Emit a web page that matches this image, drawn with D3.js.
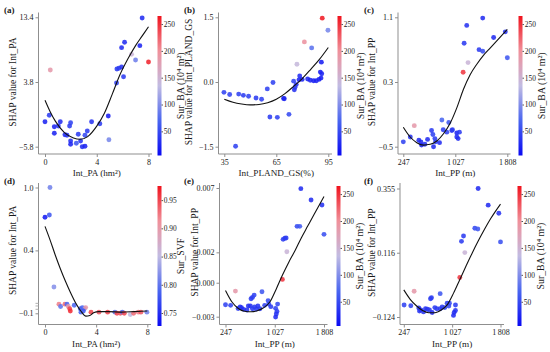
<!DOCTYPE html>
<html>
<head>
<meta charset="utf-8">
<script src="https://cdn.jsdelivr.net/npm/d3@7"></script>
<style>
	body { margin: 0; background: #fff; }
	svg text { font-family: "Liberation Serif", "Times New Roman", serif; fill: #1a1a1a; }
</style>
</head>
<body>
<svg id="chart" width="550" height="352"></svg>
<script>

// ---------------- data ---------------- //

// (a) Int_PA vs SHAP, coloured by Sur_BA
var aX = [7.51, 7.33, 6.15, 5.92, 6.69, 7.0, 8.0, 0.41, 5.56, 5.71, 5.92, 6.07, 5.53, 4.89, 4.94, 0, 0.33, 0.72, 1.03, 1.18, 0.72, 1.54, 1.70, 1.90, 1.98, 1.98, 1.98, 2.42, 2.57, 2.75, 2.88, 3.09, 3.09, 3.27, 3.6, 4.24];
var aY = [13.3, 9.19, 9.69, 8.9, 7.9, 7.07, 6.77, 5.58, 5.73, 5.83, 6.03, 4.59, 3.65, -1.24, -4.76, -2.09, -1.14, -2.83, -2.73, -2.09, -3.81, -4.02, -4.11, -2.73, -2.24, -4.95, -5.44, -5.29, -3.96, -4.95, -5.8, -5.74, -4.11, -3.47, -2.09, -2.39];
var aC = [30, 25, 30, 30, 145, 90, 255, 185, 40, 40, 35, 40, 45, 20, 95, 25, 40, 25, 35, 30, 25, 30, 35, 40, 45, 30, 25, 60, 40, 35, 30, 25, 50, 40, 35, 40];
var aCurveX = [0, 0.4, 0.8, 1.5, 2.2, 2.7, 3.3, 4.0, 4.6, 5.2, 5.8, 6.4, 7.0, 7.5, 8.0];
var aCurveY = [1.1, -0.6, -2.0, -3.7, -4.5, -4.7, -4.3, -2.75, -0.8, 2.0, 4.9, 7.2, 9.2, 10.6, 12.0];

// (b) Int_PLAND_GS
var bX = [91.5, 94.8, 81.2, 85.4, 76.9, 91.0, 90.4, 91.2, 90.8, 89.6, 88.1, 86.5, 84.6, 83.1, 79.9, 78.5, 78.1, 75.0, 76.5, 75.8, 75.4, 63.1, 59.8, 69.2, 69.6, 56.5, 53.3, 49.0, 46.0, 43.3, 38.1, 34.8, 61.3, 65.6, 72.3, 41.5];
var bY = [1.48, 1.2, 0.93, 0.79, 0.41, 0.46, 0.23, 0.19, 0.09, 0.06, 0.03, 0.03, 0.04, 0.07, 0.06, 0.14, 0.05, 0.02, -0.06, -0.12, -0.18, -0.01, -0.16, -0.38, -0.39, -0.40, -0.37, -0.33, -0.31, -0.28, -0.29, -0.24, -0.81, -0.82, -0.75, -1.49];
var bC = [260, 95, 195, 80, 140, 20, 20, 25, 20, 20, 25, 20, 25, 25, 25, 30, 25, 45, 30, 40, 35, 45, 45, 25, 25, 45, 40, 45, 40, 45, 45, 45, 40, 45, 50, 45];
var bCurveX = [35, 40, 45, 50, 55, 60, 65, 70, 75, 80, 85, 90, 95];
var bCurveY = [-0.40, -0.47, -0.51, -0.53, -0.52, -0.48, -0.40, -0.27, -0.10, 0.08, 0.30, 0.53, 0.80];

// (c) Int_PP
var cX = [1439, 1199, 1160, 1603, 1778, 1384, 1439, 1808, 1219, 1145, 412, 826, 930, 846, 900, 975, 985, 1050, 1090, 1050, 1070, 671, 691, 611, 721, 731, 791, 701, 481, 511, 521, 571, 352, 247];
var cY = [1.09, 1.0, 0.78, 0.85, 0.92, 0.70, 0.68, 0.60, 0.54, 0.42, -0.24, -0.17, -0.20, -0.29, -0.32, -0.30, -0.29, -0.33, -0.32, -0.38, -0.40, -0.30, -0.35, -0.41, -0.40, -0.44, -0.45, -0.50, -0.42, -0.44, -0.48, -0.47, -0.38, -0.44];
var cC = [30, 35, 40, 30, 35, 40, 55, 60, 145, 245, 185, 70, 60, 40, 45, 30, 40, 25, 40, 30, 30, 40, 45, 30, 40, 40, 30, 30, 30, 30, 25, 35, 35, 45];
var ppCurveX = [247, 350, 450, 550, 650, 750, 850, 950, 1050, 1150, 1250, 1350, 1450, 1550, 1650, 1808];
var cCurveY = [-0.26, -0.38, -0.45, -0.48, -0.47, -0.43, -0.34, -0.21, -0.02, 0.21, 0.39, 0.52, 0.63, 0.72, 0.81, 0.95];

// (d) Int_PA, coloured by Sur_SVF
var dX = [0.39, 0, 0.34, 0.70, 1.09, 1.22, 1.56, 1.72, 1.82, 1.93, 1.98, 2.29, 2.76, 2.92, 3.07, 3.18, 3.0, 2.81, 3.6, 4.22, 4.9, 5.47, 5.63, 5.89, 6.05, 6.2, 6.67, 6.93, 7.3, 7.5, 7.97];
var dY = [0.98, 0.72, 0.74, 0.11, -0.04, -0.06, -0.04, -0.04, -0.06, -0.08, -0.10, -0.05, -0.08, -0.07, -0.08, -0.07, -0.10, -0.11, -0.11, -0.11, -0.11, -0.11, -0.12, -0.12, -0.11, -0.12, -0.13, -0.12, -0.11, -0.11, -0.11];
var dC = [0.81, 0.74, 0.78, 0.82, 0.92, 0.80, 0.93, 0.79, 0.90, 0.95, 0.96, 0.79, 0.78, 0.79, 0.80, 0.90, 0.78, 0.79, 0.95, 0.94, 0.95, 0.80, 0.95, 0.94, 0.79, 0.95, 0.85, 0.93, 0.92, 0.94, 0.81];
var dCurveX = [0, 0.4, 0.8, 1.2, 1.6, 2.0, 2.4, 2.8, 3.2, 3.5, 3.8, 4.2, 5, 6, 7, 8];
var dCurveY = [0.64, 0.52, 0.39, 0.27, 0.16, 0.06, -0.03, -0.10, -0.145, -0.14, -0.115, -0.105, -0.105, -0.11, -0.105, -0.10];

// (e) Int_PP
var eX = [1441, 1603, 1776, 1808, 1381, 1424, 1160, 1187, 1208, 1219, 1149, 404, 825, 674, 701, 652, 922, 247, 328, 501, 479, 533, 609, 641, 706, 738, 760, 792, 868, 933, 965, 1041, 1073, 1063, 1052, 1041, 674, 587, 447];
var eY = [0.00731, 0.00643, 0.00604, 0.00376, 0.00438, 0.00438, 0.00337, 0.00345, 0.00347, 0.00241, 0.00026, -0.00065, -0.00070, -0.00114, -0.00096, -0.00124, -0.00140, -0.00171, -0.00176, -0.00194, -0.00189, -0.00207, -0.00181, -0.00181, -0.00189, -0.00204, -0.00181, -0.00202, -0.00176, -0.00166, -0.00186, -0.00199, -0.00166, -0.00223, -0.00243, -0.00267, -0.00202, -0.00212, -0.00200];
var eC = [30, 30, 35, 55, 50, 60, 40, 40, 40, 145, 245, 185, 60, 40, 45, 40, 50, 45, 45, 30, 30, 30, 35, 35, 40, 40, 35, 40, 45, 50, 40, 45, 50, 40, 35, 30, 40, 35, 40];
var eCurveY = [-0.0006, -0.0015, -0.0020, -0.00222, -0.00226, -0.00218, -0.00195, -0.0015, -0.0005, 0.0006, 0.0016, 0.0025, 0.0035, 0.0044, 0.0053, 0.0067];

// (f) Int_PP
var fX = [1447, 1609, 1781, 1808, 1394, 1442, 1211, 1178, 1232, 1151, 414, 834, 694, 678, 252, 360, 489, 522, 597, 629, 661, 705, 748, 780, 834, 909, 974, 984, 1081, 1081, 1060, 1049, 565, 500, 866, 947];
var fY = [0.355, 0.293, 0.263, 0.156, 0.207, 0.204, 0.178, 0.158, 0.116, 0.023, -0.028, -0.037, -0.052, -0.056, -0.079, -0.082, -0.090, -0.098, -0.093, -0.095, -0.098, -0.107, -0.089, -0.093, -0.093, -0.089, -0.083, -0.073, -0.079, -0.100, -0.107, -0.118, -0.105, -0.102, -0.087, -0.073];
var fC = [30, 30, 35, 55, 50, 60, 40, 40, 145, 245, 185, 60, 40, 40, 45, 45, 30, 30, 35, 35, 40, 30, 40, 40, 40, 45, 50, 50, 40, 35, 30, 30, 35, 35, 40, 45];
var fCurveY = [-0.023, -0.058, -0.082, -0.100, -0.108, -0.108, -0.098, -0.078, -0.035, 0.015, 0.065, 0.114, 0.160, 0.203, 0.243, 0.297];

// tick values and labels
var xTicksPA = [0, 4, 8], xLabelsPA = ["0", "4", "8"];
var xTicksGS = [35, 65, 95], xLabelsGS = ["35", "65", "95"];
var xTicksPP = [247, 1027.5, 1808], xLabelsPP = ["247", "1\u2009027", "1\u2009808"];
var yTicksA = [-5.8, 3.8, 13.4], yLabelsA = ["\u22125.8", "3.8", "13.4"];
var yTicksB = [-1.5, 0, 1.5], yLabelsB = ["\u22121.5", "0.0", "1.5"];
var yTicksC = [-0.5, 0.3, 1.1], yLabelsC = ["\u22120.5", "0.3", "1.1"];
var yTicksD = [-0.12, 0.43, 0.98], yLabelsD = ["\u22120.1", "0.4", "1.0"];
var yMinorD = [-0.033, -0.056, -0.085];
var yTicksE = [-0.00264, 0, 0.00236, 0.00736], yLabelsE = ["\u22120.003", "0.000", "0.002", "0.007"];
var yTicksF = [-0.124, 0.1156, 0.355], yLabelsF = ["\u22120.124", "0.116", "0.355"];
var cbTicksBA = [50, 100, 150, 200, 250], cbLabelsBA = ["50", "100", "150", "200", "250"];
var cbTicksSVF = [0.75, 0.80, 0.85, 0.90, 0.95], cbLabelsSVF = ["0.75", "0.80", "0.85", "0.90", "0.95"];
var cbDomainBA = [5, 265], cbDomainSVF = [0.727, 0.975];

// ---------------- drawing ---------------- //

var svg = d3.select("#chart");
var CMAP = ["#0a0af2", "#4a66f0", "#c2bce2", "#f0909a", "#f0121c"];

function makeColor(dom) {
	var lo = dom[0], hi = dom[1], st = (hi - lo) / 4;
	return d3.scaleLinear()
		.domain([lo, lo + st, lo + 2 * st, lo + 3 * st, hi])
		.range(CMAP);
}

// layout per panel (pixels)
var panels = [
	{lab: "(a)", x: aX, y: aY, c: aC, kx: aCurveX, ky: aCurveY, xt: xTicksPA, xl: xLabelsPA, yt: yTicksA, yl: yLabelsA, minor: [],
		xTitle: "Int_PA (hm\u00b2)", yTitle: "SHAP value for Int_PA", cbTitle: "Sur_BA (10\u2074 m\u00b2)", cbDom: cbDomainBA, cbt: cbTicksBA, cbl: cbLabelsBA,
		ax: 38.5, x0: 45, x1: 148.5, right: 152, top: 12.5, base: 154, y0: 146.7, y1: 17.3, cb: 157.5, cbTop: 16, cbBot: 155.5, ytx: 13, labX: 4},
	{lab: "(b)", x: bX, y: bY, c: bC, kx: bCurveX, ky: bCurveY, xt: xTicksGS, xl: xLabelsGS, yt: yTicksB, yl: yLabelsB, minor: [],
		xTitle: "Int_PLAND_GS(%)", yTitle: "SHAP value for Int_PLAND_GS", cbTitle: "Sur_BA (10\u2074 m\u00b2)", cbDom: cbDomainBA, cbt: cbTicksBA, cbl: cbLabelsBA,
		ax: 218.5, x0: 224.3, x1: 328.3, right: 332, top: 12.5, base: 154, y0: 146.7, y1: 17.3, cb: 337.5, cbTop: 16, cbBot: 155.5, ytx: 189, labX: 184},
	{lab: "(c)", x: cX, y: cY, c: cC, kx: ppCurveX, ky: cCurveY, xt: xTicksPP, xl: xLabelsPP, yt: yTicksC, yl: yLabelsC, minor: [],
		xTitle: "Int_PP (m)", yTitle: "SHAP value for Int_PP", cbTitle: "Sur_BA (10\u2074 m\u00b2)", cbDom: cbDomainBA, cbt: cbTicksBA, cbl: cbLabelsBA,
		ax: 398, x0: 403.3, x1: 507.3, right: 510.5, top: 12.5, base: 154, y0: 146.7, y1: 17.3, cb: 518.5, cbTop: 16, cbBot: 155.5, ytx: 372, labX: 364},
	{lab: "(d)", x: dX, y: dY, c: dC, kx: dCurveX, ky: dCurveY, xt: xTicksPA, xl: xLabelsPA, yt: yTicksD, yl: yLabelsD, minor: yMinorD,
		xTitle: "Int_PA (hm\u00b2)", yTitle: "SHAP value for Int_PA", cbTitle: "Sur_SVF", cbDom: cbDomainSVF, cbt: cbTicksSVF, cbl: cbLabelsSVF,
		ax: 38.5, x0: 45, x1: 147.3, right: 151, top: 183, base: 324.5, y0: 313.3, y1: 187.5, cb: 157.5, cbTop: 186, cbBot: 326, ytx: 13, labX: 4},
	{lab: "(e)", x: eX, y: eY, c: eC, kx: ppCurveX, ky: eCurveY, xt: xTicksPP, xl: xLabelsPP, yt: yTicksE, yl: yLabelsE, minor: [],
		xTitle: "Int_PP (m)", yTitle: "SHAP value for Int_PP", cbTitle: "Sur_BA (10\u2074 m\u00b2)", cbDom: cbDomainBA, cbt: cbTicksBA, cbl: cbLabelsBA,
		ax: 219.5, x0: 225.5, x1: 324, right: 327.5, top: 183, base: 324.5, y0: 316.7, y1: 188, cb: 336.5, cbTop: 186, cbBot: 326, ytx: 195, labX: 184},
	{lab: "(f)", x: fX, y: fY, c: fC, kx: ppCurveX, ky: fCurveY, xt: xTicksPP, xl: xLabelsPP, yt: yTicksF, yl: yLabelsF, minor: [],
		xTitle: "Int_PP (m)", yTitle: "SHAP value for Int_PP", cbTitle: "Sur_BA (10\u2074 m\u00b2)", cbDom: cbDomainBA, cbt: cbTicksBA, cbl: cbLabelsBA,
		ax: 400, x0: 403.8, x1: 500.5, right: 504, top: 183, base: 324.5, y0: 317, y1: 188.5, cb: 517.5, cbTop: 186, cbBot: 326, ytx: 372, labX: 364}
];

var defs = svg.append("defs");

panels.forEach(function(p, pi) {
	var g = svg.append("g").attr("class", "panel");

	var x = d3.scaleLinear().domain(d3.extent(p.xt)).range([p.x0, p.x1]);
	var y = d3.scaleLinear().domain(d3.extent(p.yt)).range([p.y0, p.y1]);
	var color = makeColor(p.cbDom);

	// axis lines
	g.append("line")
		.attr("x1", p.ax).attr("x2", p.ax).attr("y1", p.top).attr("y2", p.base)
		.attr("stroke", "#8f8f8f").attr("stroke-width", 1);
	g.append("line")
		.attr("x1", p.ax).attr("x2", p.right).attr("y1", p.base).attr("y2", p.base)
		.attr("stroke", "#8f8f8f").attr("stroke-width", 1);

	var xAxis = d3.axisBottom(x)
		.tickValues(p.xt)
		.tickFormat(function(d, i) { return p.xl[i]; })
		.tickSize(3).tickPadding(2);
	var yAxis = d3.axisLeft(y)
		.tickValues(p.yt)
		.tickFormat(function(d, i) { return p.yl[i]; })
		.tickSize(3).tickPadding(2);

	var gx = g.append("g").attr("transform", "translate(0," + p.base + ")").call(xAxis);
	var gy = g.append("g").attr("transform", "translate(" + p.ax + ",0)").call(yAxis);
	[gx, gy].forEach(function(a) {
		a.select(".domain").remove();
		a.selectAll("line").attr("stroke", "#8f8f8f");
		a.selectAll("text").attr("font-size", 8).attr("fill", "#1a1a1a")
			.style("font-family", "'Liberation Serif', serif");
	});

	// extra short ticks (only panel d)
	g.append("g").selectAll("line")
		.data(p.minor)
		.enter()
		.append("line")
			.attr("x1", p.ax - 3).attr("x2", p.ax)
			.attr("y1", function(d) { return y(d); })
			.attr("y2", function(d) { return y(d); })
			.attr("stroke", "#b0b0b0");

	// scatter points
	g.append("g").selectAll("circle")
		.data(p.x)
		.enter()
		.append("circle")
			.attr("cx", function(d) { return x(d); })
			.attr("cy", function(d, i) { return y(p.y[i]); })
			.attr("r", 2.45)
			.attr("fill", function(d, i) { return color(p.c[i]); })
			.attr("fill-opacity", 0.88);

	// smooth fit line
	var line = d3.line()
		.x(function(d) { return x(d); })
		.y(function(d, i) { return y(p.ky[i]); })
		.curve(d3.curveMonotoneX);
	g.append("path")
		.attr("d", line(p.kx))
		.attr("fill", "none")
		.attr("stroke", "#111")
		.attr("stroke-width", 1.1);

	// colour bar
	var gid = "grad" + pi;
	var grad = defs.append("linearGradient")
		.attr("id", gid).attr("x1", 0).attr("x2", 0).attr("y1", 1).attr("y2", 0);
	d3.range(0, 1.0001, 0.05).forEach(function(t) {
		grad.append("stop")
			.attr("offset", t)
			.attr("stop-color", color(p.cbDom[0] + t * (p.cbDom[1] - p.cbDom[0])));
	});
	g.append("rect")
		.attr("x", p.cb).attr("y", p.cbTop)
		.attr("width", 4).attr("height", p.cbBot - p.cbTop)
		.attr("fill", "url(#" + gid + ")");

	var cbScale = d3.scaleLinear().domain(p.cbDom).range([p.cbBot, p.cbTop]);
	var gc = g.append("g")
		.attr("transform", "translate(" + (p.cb + 4) + ",0)")
		.call(d3.axisRight(cbScale)
			.tickValues(p.cbt)
			.tickFormat(function(d, i) { return p.cbl[i]; })
			.tickSize(1.5).tickPadding(0.8));
	gc.select(".domain").remove();
	gc.selectAll("line").attr("stroke", "#555");
	gc.selectAll("text").attr("font-size", 7.4).attr("fill", "#1a1a1a")
		.style("font-family", "'Liberation Serif', serif");

	// titles
	g.append("text")
		.attr("x", (p.x0 + p.x1) / 2)
		.attr("y", p.base + 22)
		.attr("text-anchor", "middle")
		.attr("font-size", 9.2)
		.text(p.xTitle);

	g.append("text")
		.attr("transform", "translate(" + p.ytx + "," + ((p.y0 + p.y1) / 2) + ") rotate(-90)")
		.attr("text-anchor", "middle")
		.attr("dy", "0.35em")
		.attr("font-size", 9.5)
		.text(p.yTitle);

	g.append("text")
		.attr("transform", "translate(" + (p.cb + 23) + "," + ((p.cbTop + p.cbBot) / 2) + ") rotate(-90)")
		.attr("text-anchor", "middle")
		.attr("dy", "0.35em")
		.attr("font-size", 9.8)
		.text(p.cbTitle);

	g.append("text")
		.attr("x", p.labX)
		.attr("y", p.top + 0.5)
		.attr("font-size", 9)
		.attr("font-weight", "bold")
		.text(p.lab);
});

</script>
</body>
</html>
